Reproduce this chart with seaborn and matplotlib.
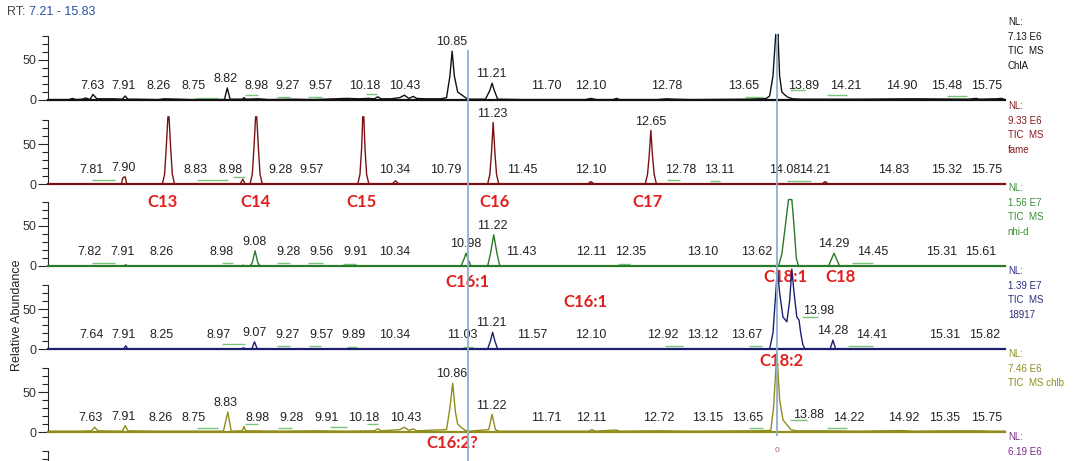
import numpy as np
import pandas as pd
import seaborn as sns
import matplotlib.pyplot as plt

sns.set_style('white')
plt.rcParams['font.family'] = ['Liberation Sans', 'DejaVu Sans']

# ---- data (RT in min, relative abundance) ----
rt_range = (7.21, 15.83)

chla_t = [7.21, 7.40, 7.43, 7.46, 7.52, 7.55, 7.58, 7.59, 7.615, 7.65, 7.70, 7.80, 7.88, 7.905, 7.93,
          8.00, 8.20, 8.26, 8.50, 8.70, 8.78, 8.80, 8.825, 8.85, 8.90, 8.96, 8.975, 8.99, 9.10, 9.20,
          9.40, 9.60, 9.80, 9.90, 10.00, 10.10, 10.15, 10.18, 10.21, 10.30, 10.38, 10.42, 10.46, 10.50,
          10.53, 10.60, 10.75, 10.80, 10.83, 10.85, 10.87, 10.90, 10.93, 10.97, 11.00, 11.15, 11.19,
          11.21, 11.23, 11.26, 11.50, 12.05, 12.10, 12.15, 12.30, 12.33, 12.36, 12.70, 12.78, 12.85,
          13.00, 13.50, 13.68, 13.71, 13.74, 13.765, 13.775, 13.785, 13.80, 13.82, 13.85, 13.88, 13.92,
          14.00, 14.50, 15.00, 15.50, 15.57, 15.60, 15.75, 15.80, 15.83]
chla_i = [0.5, 0.5, 2, 0.5, 1, 2.5, 1, 1, 7, 1.5, 1.5, 1.5, 1, 5, 1,
          1, 0.5, 1.5, 0.5, 1, 0.5, 1, 15, 1, 1, 1, 3, 1, 1.5, 0.5,
          1, 0.5, 1.5, 2, 1.5, 2, 1.5, 4, 1.5, 1.5, 3, 6, 2, 4.5,
          2, 1.5, 1.5, 3, 30, 61, 30, 10, 7, 3, 1, 1, 12,
          21, 12, 1, 0.5, 0.5, 2, 0.5, 0.5, 2, 0.5, 0.5, 1.5, 1,
          0.5, 1, 2, 5, 30, 82, 76, 82, 30, 10, 6, 3, 1.5,
          1, 1, 1.5, 1, 2, 1, 1.5, 2, 0.5]
chla_labels = [7.63, 7.91, 8.26, 8.75, 8.82, 8.98, 9.27, 9.57, 10.18, 10.43, 10.85, 11.21, 11.70,
               12.10, 12.78, 13.65, 13.89, 14.21, 14.90, 15.48, 15.75]
chla_label_x = [7.61, 7.89, 8.21, 8.52, 8.81, 9.09, 9.37, 9.66, 10.06, 10.42, 10.85, 11.20, 11.70,
                12.10, 12.78, 13.48, 14.02, 14.40, 14.90, 15.30, 15.66]
chla_marks = [(8.53, 8.74, 3), (8.985, 9.10, 6), (9.27, 9.39, 4), (9.55, 9.68, 4), (10.07, 10.17, 7),
              (13.49, 13.65, 4), (13.89, 14.03, 12), (14.23, 14.41, 6), (15.31, 15.49, 5)]

fame_t = [7.21, 7.87, 7.885, 7.905, 7.92, 8.24, 8.26, 8.275, 8.29, 8.30, 8.315, 8.33, 8.35,
          8.94, 8.965, 8.985, 9.03, 9.05, 9.065, 9.08, 9.09, 9.105, 9.12, 9.14,
          10.00, 10.02, 10.035, 10.045, 10.055, 10.065, 10.08, 10.10, 10.31, 10.34, 10.37,
          11.17, 11.19, 11.205, 11.22, 11.235, 11.25, 11.27, 12.07, 12.10, 12.13,
          12.59, 12.61, 12.625, 12.64, 12.655, 12.67, 12.69, 14.18, 14.21, 14.24, 15.83]
fame_i = [0, 0, 8, 9, 0, 0, 12, 45, 84, 84, 45, 12, 0,
          0, 6, 0, 0, 12, 45, 84, 84, 45, 12, 0,
          0, 12, 45, 84, 84, 45, 12, 0, 0, 4, 0,
          0, 12, 40, 77, 40, 12, 0, 0, 3, 0,
          0, 12, 35, 67, 35, 12, 0, 0, 3, 0, 0]
fame_labels = [7.81, 7.90, 8.83, 8.98, 9.28, 9.57, 10.34, 10.79, 11.23, 11.45, 12.10, 12.65,
               12.78, 13.11, 14.08, 14.21, 14.83, 15.32, 15.75]
fame_label_x = [7.60, 7.89, 8.54, 8.85, 9.30, 9.585, 10.33, 10.79, 11.21, 11.485, 12.10, 12.64,
                12.91, 13.255, 13.85, 14.12, 14.83, 15.30, 15.66]
fame_marks = [(7.61, 7.81, 5), (8.55, 8.83, 5), (8.88, 8.985, 9), (12.79, 12.90, 5),
              (13.17, 13.26, 4), (13.87, 14.08, 4)]

nhid_t = [7.21, 7.89, 7.91, 7.93, 8.95, 8.97, 8.99, 9.03, 9.05, 9.075, 9.10, 9.12,
          10.93, 10.955, 10.975, 10.995, 11.02, 11.17, 11.195, 11.225, 11.255, 11.28,
          13.79, 13.82, 13.86, 13.88, 13.91, 13.93, 13.95, 13.97,
          14.24, 14.265, 14.29, 14.315, 14.34, 15.83]
nhid_i = [0, 0, 1.5, 0, 0, 1, 0, 0, 4, 19, 4, 0,
          0, 8, 16, 8, 0, 0, 15, 39, 15, 0,
          0, 15, 60, 83, 83, 50, 10, 0,
          0, 8, 16, 8, 0, 0]
nhid_labels = [7.82, 7.91, 8.26, 8.98, 9.08, 9.28, 9.56, 9.91, 10.34, 10.98, 11.22, 11.43, 12.11,
               12.35, 13.10, 13.62, 14.29, 14.45, 15.31, 15.61]
nhid_label_x = [7.58, 7.88, 8.23, 8.77, 9.07, 9.375, 9.675, 9.98, 10.33, 10.975, 11.21, 11.475, 12.10,
                12.46, 13.11, 13.59, 14.29, 14.64, 15.26, 15.61]
nhid_marks = [(7.61, 7.81, 4), (8.78, 8.88, 4), (9.27, 9.39, 4), (9.55, 9.69, 4), (9.87, 9.98, 3),
              (12.34, 12.45, 3), (14.45, 14.64, 4)]

s18917_t = [7.21, 7.89, 7.91, 7.93, 8.95, 8.97, 8.99, 9.045, 9.07, 9.095,
            11.17, 11.195, 11.215, 11.235, 11.26,
            13.71, 13.74, 13.765, 13.78, 13.80, 13.83, 13.865, 13.89, 13.91, 13.93, 13.955,
            13.975, 13.99, 14.01, 14.03, 14.255, 14.28, 14.305, 15.83]
s18917_i = [0, 0, 4, 0, 0, 1.5, 0, 0, 9, 0,
            0, 10, 21, 10, 0,
            0, 20, 70, 100, 70, 40, 34, 60, 100, 70, 40,
            36, 20, 5, 0, 0, 11, 0, 0]
s18917_labels = [7.64, 7.91, 8.25, 8.97, 9.07, 9.27, 9.57, 9.89, 10.34, 11.03, 11.21, 11.57, 12.10,
                 12.92, 13.12, 13.67, 13.98, 14.28, 14.41, 15.31, 15.82]
s18917_label_x = [7.60, 7.89, 8.23, 8.75, 9.07, 9.37, 9.67, 9.96, 10.33, 10.945, 11.205, 11.57, 12.10,
                  12.75, 13.11, 13.50, 14.15, 14.28, 14.63, 15.29, 15.65]
s18917_marks = [(8.78, 8.985, 6), (9.27, 9.39, 4), (9.56, 9.67, 4), (9.90, 9.99, 3), (10.95, 11.04, 3),
                (12.77, 12.93, 4), (13.52, 13.64, 4), (14.00, 14.15, 40), (14.42, 14.64, 4)]

chlb_t = [7.21, 7.50, 7.60, 7.63, 7.66, 7.88, 7.905, 7.93, 8.20, 8.50, 8.79, 8.83, 8.86, 8.96,
          8.975, 8.99, 9.30, 9.60, 9.90, 10.15, 10.18, 10.21, 10.38, 10.42, 10.46, 10.50, 10.53,
          10.80, 10.83, 10.855, 10.88, 10.90, 10.93, 10.97, 11.00, 11.18, 11.21, 11.24, 11.27,
          12.08, 12.11, 12.14, 12.33, 12.36, 12.70, 13.00, 13.60, 13.72, 13.745, 13.775, 13.80,
          13.83, 13.86, 13.90, 13.95, 14.20, 14.50, 14.90, 15.00, 15.35, 15.60, 15.70, 15.83]
chlb_i = [1, 1, 1.5, 6, 1.5, 1, 8, 1.5, 1, 1, 1, 25, 1, 1.5,
          7, 1.5, 1, 1.5, 1, 1.5, 4, 1.5, 3, 6, 2, 4, 1.5,
          3, 30, 61, 25, 10, 6, 2, 1, 3, 22, 3, 1,
          1, 3, 1, 2.5, 1, 1.5, 1, 1.5, 2, 30, 99, 40,
          15, 10, 3, 1.5, 1.5, 1, 1.8, 1, 1.5, 1.5, 1, 1]
chlb_labels = [7.63, 7.91, 8.26, 8.75, 8.83, 8.98, 9.28, 9.91, 10.18, 10.43, 10.86, 11.22, 11.71,
               12.11, 12.72, 13.15, 13.65, 13.88, 14.22, 14.92, 15.35, 15.75]
chlb_label_x = [7.59, 7.89, 8.22, 8.52, 8.81, 9.10, 9.40, 9.72, 10.05, 10.43, 10.85, 11.205, 11.70,
                12.10, 12.715, 13.15, 13.51, 14.06, 14.42, 14.92, 15.29, 15.66]
chlb_marks = [(8.55, 8.74, 5), (8.985, 9.10, 10), (9.28, 9.41, 5), (9.75, 9.90, 6), (10.08, 10.18, 10),
              (13.52, 13.65, 5), (13.89, 14.05, 15), (14.23, 14.41, 5)]

nl_values = ['7.13 E6', '9.33 E6', '1.56 E7', '1.39 E7', '7.46 E6', '6.19 E6']
nl_names = ['TIC  MS\nChlA', 'TIC  MS\nfame', 'TIC  MS\nnhi-d', 'TIC  MS\n18917', 'TIC  MS chlb', '']
colors = ['#111111', '#7a1014', '#2a7a2a', '#1b1f6e', '#8f8d1c', '#7a2a8a']
text_colors = ['#111111', '#8a1a1e', '#3a8f3a', '#2a2e80', '#8f8d1c', '#7a2a8a']

vline_rt = [10.99, 13.78]

# red compound annotations: (panel, text, rt, abundance)
comp_panel = [1, 1, 1, 1, 1, 2, 2, 2, 3, 3, 4]
comp_text = ['C13', 'C14', 'C15', 'C16', 'C17', 'C16:1', 'C18:1', 'C18', 'C16:1', 'C18:2', 'C16:2?']
comp_rt = [8.24, 9.08, 10.03, 11.23, 12.61, 10.985, 13.85, 14.345, 12.05, 13.82, 10.85]
comp_y = [-23, -23, -23, -23, -23, -20, -14, -14, 59, -15, -14]

traces = [(chla_t, chla_i, chla_labels, chla_label_x, chla_marks),
          (fame_t, fame_i, fame_labels, fame_label_x, fame_marks),
          (nhid_t, nhid_i, nhid_labels, nhid_label_x, nhid_marks),
          (s18917_t, s18917_i, s18917_labels, s18917_label_x, s18917_marks),
          (chlb_t, chlb_i, chlb_labels, chlb_label_x, chlb_marks)]

# ---- layout (pixels) ----
W, H = 1074, 461
x_left, x_right = 48, 1005
baselines = [100, 184, 266, 349, 432, 515]
panel_h = 80

fig = plt.figure(figsize=(W / 100, H / 100), dpi=100)

axes = []
for k, base in enumerate(baselines):
    ax = fig.add_axes([x_left / W, 1 - base / H, (x_right - x_left) / W, panel_h / H])
    ax.set_xlim(*rt_range)
    ax.set_ylim(0, 100)
    ax.set_facecolor('none')
    for s in ['top', 'right']:
        ax.spines[s].set_visible(False)
    ax.spines['left'].set_bounds(0, 80)
    ax.spines['left'].set_linewidth(0.8)
    ax.spines['bottom'].set_color(colors[k])
    ax.spines['bottom'].set_linewidth(1.6)
    ax.set_xticks([])
    ax.set_yticks([0, 50])
    ax.set_yticks(range(0, 81, 10), minor=True)
    ax.tick_params(axis='y', which='major', direction='out', length=7, width=0.8, pad=1,
                   labelsize=9, labelcolor='#333333', left=True, labelleft=(k < 5))
    ax.tick_params(axis='y', which='minor', direction='out', length=4, width=0.8, left=True)
    ax.text(1.003, 1.04, 'NL:\n' + nl_values[k] + ('\n' + nl_names[k] if nl_names[k] else ''),
            transform=ax.transAxes, va='top', ha='left', fontsize=7, color=text_colors[k],
            linespacing=1.6)
    axes.append(ax)

for k, (t, i, labels, label_x, marks) in enumerate(traces):
    ax = axes[k]
    df = pd.DataFrame({'rt': t, 'abundance': i})
    sns.lineplot(data=df, x='rt', y='abundance', ax=ax, color=colors[k], lw=1.0,
                 sort=False, estimator=None, clip_on=False)
    ax.set_xlabel('')
    ax.set_ylabel('')
    t_arr = np.array(t)
    i_arr = np.array(i)
    for lab, lx in zip(labels, label_x):
        near = i_arr[np.abs(t_arr - lab) <= 0.025]
        top = max(near.max() if len(near) else 0, np.interp(lab, t_arr, i_arr))
        ax.text(lx, max(top + 3.5, 9.5), f'{lab:.2f}', ha='center', va='bottom',
                fontsize=9, color='#222222')
    for x0, x1, h in marks:
        ax.hlines(h, x0, x1, color='#7cc47c', lw=1.0)

for p, txt, rt, y in zip(comp_panel, comp_text, comp_rt, comp_y):
    axes[p].text(rt, y, txt, ha='center', va='center', fontsize=12, fontweight='bold',
                 color='#e0201c', family=['Lato', 'DejaVu Sans'], clip_on=False)

# small cut-off peak label of the sixth trace
axes[5].text(13.78, 81, '0', ha='center', va='center', fontsize=6, color='#b0508a')

# vertical marker lines across the stack
ov = fig.add_axes([x_left / W, 0, (x_right - x_left) / W, 1])
ov.set_xlim(*rt_range)
ov.set_ylim(H, 0)
ov.axis('off')
ov.vlines(vline_rt[0], 50, H, color='#8fb0cf', lw=1.3)
ov.vlines(vline_rt[1], 34, 436, color='#8fb0cf', lw=1.3)

fig.text(7 / W, 1 - 12 / H, 'RT:', fontsize=9, color='#444444', va='center')
fig.text(29 / W, 1 - 12 / H, '7.21 - 15.83', fontsize=9, color='#2a4fa0', va='center')
fig.text(17 / W, 1 - 315 / H, 'Relative Abundance', rotation=90, fontsize=9, color='#222222',
         va='center', ha='center')

fig.savefig('out.png', dpi=100)
